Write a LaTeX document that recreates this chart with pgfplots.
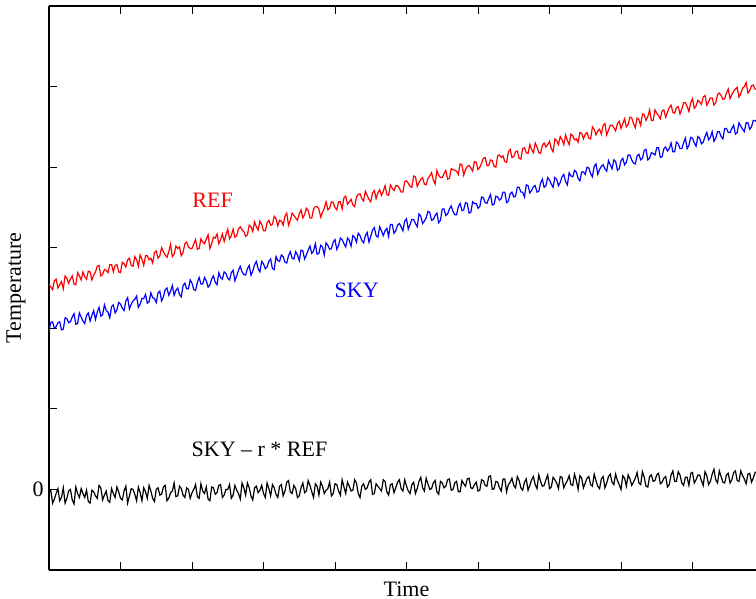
\documentclass[border=0pt]{standalone}
\usepackage{pgfplots}
\usepackage{pgfplotstable}
\pgfplotsset{compat=1.18}
\usepackage{fontspec}
\setmainfont{Liberation Serif}
\pgfplotstableread{
x ref sky diff
0.00 2.55 1.97 -0.03
0.025 2.51 2.07 -0.01
0.05 2.48 2.08 -0.17
0.075 2.59 2.00 -0.12
0.10 2.61 2.02 -0.05
0.125 2.50 2.07 0.01
0.15 2.54 2.08 -0.14
0.175 2.58 1.98 -0.10
0.20 2.49 1.99 0.02
0.225 2.65 2.13 -0.17
0.25 2.62 2.12 -0.11
0.275 2.56 2.07 -0.02
0.30 2.61 2.08 0.00
0.325 2.65 2.14 -0.13
0.35 2.55 2.18 -0.18
0.375 2.54 2.05 0.03
0.40 2.69 2.06 -0.05
0.425 2.65 2.19 -0.10
0.45 2.60 2.14 0.01
0.475 2.70 2.09 -0.05
0.50 2.64 2.06 -0.10
0.525 2.61 2.16 -0.01
0.55 2.71 2.19 -0.15
0.575 2.70 2.09 -0.17
0.60 2.60 2.16 -0.01
0.625 2.66 2.22 -0.03
0.65 2.70 2.11 -0.08
0.675 2.77 2.20 -0.11
0.70 2.78 2.26 0.05
0.725 2.65 2.15 0.02
0.75 2.67 2.17 -0.13
0.775 2.73 2.29 -0.07
0.80 2.72 2.22 -0.02
0.825 2.69 2.20 -0.14
0.85 2.79 2.13 -0.16
0.875 2.79 2.27 0.01
0.90 2.70 2.29 -0.05
0.925 2.78 2.19 -0.10
0.95 2.79 2.23 0.03
0.975 2.70 2.32 -0.03
1.00 2.69 2.30 -0.11
1.025 2.82 2.25 -0.13
1.05 2.80 2.22 -0.02
1.075 2.76 2.34 0.04
1.10 2.85 2.38 -0.17
1.125 2.87 2.24 -0.08
1.15 2.78 2.30 0.01
1.175 2.77 2.34 0.00
1.20 2.89 2.36 -0.06
1.225 2.85 2.40 -0.14
1.25 2.77 2.26 0.03
1.275 2.91 2.30 -0.04
1.30 2.86 2.37 -0.14
1.325 2.78 2.37 0.02
1.35 2.90 2.42 -0.03
1.375 2.90 2.31 -0.11
1.40 2.85 2.33 0.05
1.425 2.87 2.44 -0.02
1.45 2.81 2.38 -0.11
1.475 2.94 2.37 -0.15
1.50 2.96 2.32 0.00
1.525 2.87 2.44 0.02
1.55 2.90 2.46 -0.07
1.575 3.00 2.34 -0.06
1.60 2.95 2.39 0.03
1.625 2.91 2.48 0.05
1.65 2.88 2.50 -0.14
1.675 2.95 2.41 -0.11
1.70 3.04 2.46 -0.04
1.725 2.89 2.53 -0.02
1.75 2.92 2.41 0.08
1.775 3.02 2.47 -0.09
1.80 2.99 2.50 -0.08
1.825 3.01 2.42 0.04
1.85 2.90 2.39 0.01
1.875 2.94 2.53 -0.07
1.90 3.05 2.56 -0.10
1.925 3.07 2.49 0.02
1.95 3.01 2.49 0.00
1.975 2.99 2.60 -0.11
2.00 2.99 2.56 -0.04
2.025 3.05 2.48 0.00
2.05 3.10 2.47 0.06
2.075 2.98 2.57 -0.09
2.10 2.99 2.63 -0.11
2.125 3.11 2.55 0.07
2.15 3.07 2.55 -0.02
2.175 3.05 2.63 -0.05
2.20 3.11 2.59 0.03
2.225 3.16 2.51 -0.12
2.25 2.99 2.54 -0.14
2.275 3.05 2.61 0.03
2.30 3.13 2.65 0.02
2.325 3.12 2.57 -0.06
2.35 3.17 2.54 -0.04
2.375 3.05 2.69 0.05
2.40 3.10 2.63 0.06
2.425 3.17 2.61 -0.10
2.45 3.08 2.70 -0.07
2.475 3.16 2.68 0.00
2.50 3.23 2.62 0.00
2.525 3.11 2.60 0.06
2.55 3.15 2.69 -0.11
2.575 3.23 2.72 -0.07
2.60 3.13 2.59 0.05
2.625 3.15 2.65 -0.01
2.65 3.23 2.72 -0.05
2.675 3.26 2.77 -0.12
2.70 3.22 2.70 0.08
2.725 3.20 2.67 0.02
2.75 3.14 2.66 -0.07
2.775 3.16 2.74 0.08
2.80 3.28 2.78 0.02
2.825 3.26 2.66 -0.08
2.85 3.20 2.71 -0.13
2.875 3.32 2.79 0.02
2.90 3.26 2.83 0.04
2.925 3.22 2.74 -0.04
2.95 3.33 2.70 -0.01
2.975 3.29 2.83 0.05
3.00 3.21 2.80 -0.05
3.025 3.21 2.74 -0.10
3.05 3.31 2.76 0.08
3.075 3.34 2.83 0.01
3.10 3.28 2.86 -0.08
3.125 3.29 2.74 0.06
3.15 3.39 2.73 0.02
3.175 3.36 2.89 -0.06
3.20 3.27 2.84 -0.10
3.225 3.34 2.83 0.04
3.25 3.33 2.91 0.06
3.275 3.28 2.89 -0.08
3.30 3.39 2.82 -0.02
3.325 3.43 2.81 0.09
3.35 3.28 2.90 0.11
3.375 3.34 2.95 -0.03
3.40 3.43 2.87 -0.05
3.425 3.40 2.86 0.05
3.45 3.37 2.95 0.01
3.475 3.34 2.91 -0.10
3.50 3.42 2.84 -0.08
3.525 3.47 2.97 0.02
3.55 3.37 2.96 0.08
3.575 3.41 2.86 -0.04
3.60 3.49 2.91 -0.02
3.625 3.46 2.97 0.11
3.65 3.37 3.02 0.05
3.675 3.37 2.93 -0.03
3.70 3.48 2.96 -0.10
3.725 3.51 3.05 0.07
3.75 3.51 2.92 0.04
3.775 3.48 2.93 -0.07
3.80 3.38 3.03 0.09
3.825 3.44 3.01 0.04
3.85 3.49 2.91 -0.05
3.875 3.57 3.06 -0.01
3.90 3.47 3.03 0.01
3.925 3.49 2.98 0.09
3.95 3.57 2.99 -0.08
3.975 3.56 3.07 -0.05
4.00 3.50 3.10 0.07
4.025 3.47 2.98 0.06
4.05 3.57 3.03 -0.02
4.075 3.57 3.12 -0.07
4.10 3.48 3.10 0.12
4.125 3.62 3.05 0.03
4.15 3.64 3.01 -0.05
4.175 3.54 3.12 0.09
4.20 3.57 3.09 0.04
4.225 3.60 3.02 -0.02
4.25 3.53 3.15 -0.01
4.275 3.51 3.13 0.12
4.30 3.63 3.07 0.08
4.325 3.66 3.18 -0.05
4.35 3.67 3.15 -0.10
4.375 3.61 3.09 0.04
4.40 3.58 3.06 0.07
4.425 3.70 3.15 0.00
4.45 3.65 3.19 0.02
4.475 3.60 3.07 0.09
4.50 3.57 3.14 0.12
4.525 3.68 3.22 -0.06
4.55 3.71 3.25 -0.05
4.575 3.61 3.15 0.07
4.60 3.68 3.13 0.04
4.625 3.72 3.26 0.01
4.65 3.65 3.21 -0.02
4.675 3.70 3.15 0.12
4.70 3.77 3.21 0.10
4.725 3.66 3.24 -0.03
4.75 3.65 3.14 -0.07
4.775 3.78 3.29 0.06
4.80 3.74 3.29 0.07
4.825 3.71 3.18 -0.04
4.85 3.77 3.21 0.02
4.875 3.77 3.28 0.09
4.90 3.74 3.30 0.12
4.925 3.69 3.26 0.01
4.95 3.69 3.21 -0.02
4.975 3.82 3.33 0.12
5.00 3.83 3.36 0.04
5.025 3.80 3.23 -0.02
5.05 3.76 3.29 -0.05
5.075 3.75 3.35 0.06
5.10 3.89 3.35 0.09
5.125 3.88 3.30 -0.05
5.15 3.76 3.26 0.01
5.175 3.81 3.42 0.10
5.20 3.85 3.39 0.15
5.225 3.87 3.30 0.02
5.25 3.79 3.33 -0.02
5.275 3.78 3.37 0.14
5.30 3.86 3.45 0.07
5.325 3.89 3.44 0.00
5.35 3.93 3.34 0.01
5.375 3.84 3.35 0.08
5.40 3.79 3.40 0.11
5.425 3.96 3.43 -0.03
5.45 3.90 3.31 -0.06
5.475 3.87 3.34 0.10
5.50 3.87 3.48 0.08
5.525 3.92 3.48 0.02
5.55 3.96 3.40 0.04
5.575 3.85 3.42 0.12
5.60 3.86 3.48 0.13
5.625 3.98 3.52 -0.01
5.65 3.97 3.45 0.00
5.675 3.96 3.41 0.08
5.70 3.95 3.41 0.10
5.725 3.91 3.51 -0.03
5.75 4.04 3.55 -0.03
5.775 4.03 3.46 0.11
5.80 3.90 3.47 0.07
5.825 3.97 3.56 0.04
5.85 4.01 3.55 0.13
5.875 4.02 3.43 0.14
5.90 3.99 3.44 0.02
5.925 3.95 3.57 0.01
5.95 4.07 3.55 0.06
5.975 4.06 3.55 0.09
6.00 3.97 3.49 -0.02
6.025 4.00 3.51 -0.01
6.05 4.05 3.63 0.12
6.075 4.11 3.62 0.11
6.10 4.12 3.56 0.05
6.125 4.02 3.55 0.04
6.15 4.02 3.61 0.16
6.175 4.09 3.66 0.17
6.20 4.08 3.53 0.00
6.225 4.01 3.54 0.01
6.25 4.00 3.64 0.10
6.275 4.14 3.63 0.09
6.30 4.15 3.59 0.02
6.325 4.12 3.61 -0.02
6.35 4.14 3.69 0.13
6.375 4.07 3.69 0.13
6.40 4.06 3.56 -0.03
6.425 4.19 3.58 0.06
6.45 4.22 3.67 0.09
6.475 4.12 3.69 0.14
6.50 4.13 3.63 0.05
6.525 4.19 3.64 0.02
6.55 4.20 3.75 0.16
6.575 4.11 3.75 0.11
6.60 4.10 3.69 0.02
6.625 4.23 3.69 -0.01
6.65 4.24 3.63 0.09
6.675 4.18 3.78 0.13
6.70 4.17 3.77 -0.01
6.725 4.28 3.68 0.05
6.75 4.22 3.71 0.12
6.775 4.18 3.76 0.16
6.80 4.30 3.77 0.06
6.825 4.25 3.69 0.01
6.85 4.18 3.70 0.18
6.875 4.17 3.80 0.10
6.90 4.27 3.85 0.04
6.925 4.30 3.75 0.05
6.95 4.25 3.77 0.12
6.975 4.28 3.87 0.18
7.00 4.32 3.84 0.01
7.025 4.23 3.79 0.03
7.05 4.19 3.75 0.15
7.075 4.35 3.87 0.12
7.10 4.33 3.85 0.08
7.125 4.28 3.77 0.01
7.15 4.38 3.81 0.16
7.175 4.34 3.88 0.15
7.20 4.28 3.91 0.02
7.225 4.40 3.82 0.07
7.25 4.33 3.78 0.11
7.275 4.28 3.93 0.17
7.30 4.41 3.89 0.06
7.325 4.39 3.88 0.05
7.35 4.34 3.96 0.19
7.375 4.35 3.94 0.11
7.40 4.31 3.86 0.00
7.425 4.43 3.83 0.17
7.45 4.42 3.94 0.14
7.475 4.35 3.94 0.02
7.50 4.41 3.91 0.08
7.525 4.43 4.00 0.14
7.55 4.36 3.99 0.16
7.575 4.35 3.92 0.06
7.60 4.50 3.88 0.04
7.625 4.47 4.01 0.19
7.65 4.40 4.04 0.11
7.675 4.45 3.91 0.04
7.70 4.47 3.97 0.01
7.725 4.41 4.01 0.13
7.75 4.52 4.03 0.16
7.775 4.54 3.98 0.02
7.80 4.40 3.95 0.08
7.825 4.46 4.08 0.16
7.85 4.52 4.03 0.19
7.875 4.52 3.98 0.09
7.90 4.49 4.09 0.06
7.925 4.45 4.07 0.19
7.95 4.54 3.96 0.11
7.975 4.57 3.98 0.06
8.00 4.48 4.08 0.00
8.025 4.54 4.11 0.17
8.05 4.60 4.03 0.14
8.075 4.50 4.06 0.04
8.10 4.53 4.15 0.18
8.125 4.62 4.15 0.13
8.15 4.61 4.09 0.05
8.175 4.54 4.05 0.09
8.20 4.49 4.04 0.14
8.225 4.61 4.14 0.21
8.25 4.59 4.16 0.08
8.275 4.52 4.09 0.06
8.30 4.66 4.11 0.22
8.325 4.65 4.21 0.15
8.35 4.58 4.22 0.04
8.375 4.63 4.09 0.03
8.40 4.71 4.11 0.16
8.425 4.58 4.18 0.18
8.45 4.58 4.17 0.10
8.475 4.71 4.15 0.11
8.50 4.67 4.24 0.18
8.525 4.64 4.24 0.20
8.55 4.60 4.12 0.07
8.575 4.70 4.13 0.09
8.60 4.71 4.23 0.14
8.625 4.62 4.25 0.16
8.65 4.68 4.20 0.03
8.675 4.74 4.23 0.06
8.70 4.77 4.30 0.18
8.725 4.68 4.19 0.23
8.75 4.67 4.19 0.10
8.775 4.74 4.31 0.10
8.80 4.75 4.29 0.22
8.825 4.66 4.23 0.18
8.85 4.72 4.23 0.08
8.875 4.80 4.30 0.05
8.90 4.80 4.36 0.15
8.925 4.75 4.23 0.15
8.95 4.69 4.27 0.05
8.975 4.80 4.37 0.20
9.00 4.85 4.36 0.21
9.025 4.73 4.30 0.08
9.05 4.76 4.26 0.12
9.075 4.83 4.38 0.18
9.10 4.81 4.36 0.18
9.125 4.78 4.29 0.11
9.15 4.87 4.31 0.05
9.175 4.89 4.38 0.22
9.20 4.77 4.43 0.17
9.225 4.81 4.34 0.06
9.25 4.86 4.37 0.10
9.275 4.86 4.44 0.19
9.30 4.77 4.32 0.25
9.325 4.80 4.36 0.12
9.35 4.90 4.44 0.08
9.375 4.92 4.44 0.23
9.40 4.89 4.38 0.16
9.425 4.84 4.35 0.09
9.45 4.85 4.48 0.08
9.475 4.92 4.48 0.18
9.50 4.97 4.43 0.20
9.525 4.85 4.43 0.08
9.55 4.90 4.48 0.12
9.575 4.94 4.52 0.21
9.60 4.97 4.41 0.23
9.625 4.99 4.43 0.11
9.65 4.87 4.55 0.10
9.675 4.91 4.51 0.23
9.70 4.98 4.47 0.17
9.725 5.00 4.44 0.13
9.75 5.05 4.55 0.07
9.775 4.92 4.55 0.19
9.80 4.95 4.47 0.20
9.825 5.01 4.50 0.09
9.85 5.02 4.58 0.14
9.875 4.97 4.58 0.21
9.90 4.96 4.56 0.22
}\data
\begin{document}
\begin{tikzpicture}[font=\fontsize{11}{13.2}\selectfont]
\useasboundingbox (-24.5pt,-14.5pt) rectangle (353.5pt,285pt);
\begin{axis}[
  scale only axis, width=357.5pt, height=282pt,
  xmin=0, xmax=10, ymin=-1, ymax=6,
  axis x line*=box, axis y line*=left,
  xtick={1,2,...,9}, xticklabels={},
  ytick={-1,0,...,6}, yticklabels={{},\mbox{0},{},{},{},{},{},{}},
  tick align=inside, major tick length=4pt,
  tick style={black, line width=0.5pt},
  axis line style={black, line width=0.6pt},
  yticklabel style={inner sep=2.5pt},
  xlabel={Time}, ylabel={Temperature},
  every axis x label/.style={at={(axis description cs:0.5,-0.0213)}, anchor=north, inner sep=0pt},
  every axis y label/.style={at={(axis description cs:-0.0322,0.5)}, rotate=90, anchor=south, inner sep=0pt},
]
\addplot[red, line width=0.6pt] table[x=x, y=ref] {\data};
\addplot[blue, line width=0.6pt] table[x=x, y=sky] {\data};
\addplot[black, line width=0.6pt] table[x=x, y=diff] {\data};
\node[red, anchor=base west, inner sep=0pt] at (axis cs:2.0,3.50) {REF};
\node[blue, anchor=base west, inner sep=0pt] at (axis cs:3.99,2.38) {SKY};
\node[black, anchor=base west, inner sep=0pt] at (axis cs:1.99,0.41) {SKY – r * REF};
\end{axis}
\end{tikzpicture}
\end{document}
